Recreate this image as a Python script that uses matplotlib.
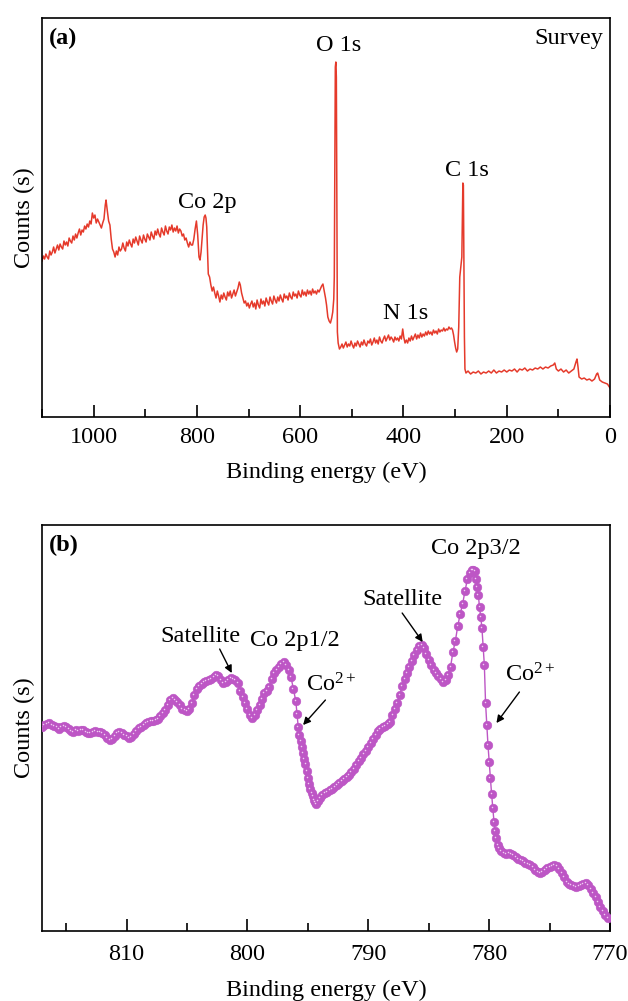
import matplotlib
matplotlib.use("Agg")
import matplotlib.pyplot as plt
import matplotlib.transforms as mtransforms
from matplotlib.ticker import MultipleLocator

plt.rcParams["font.family"] = ["Liberation Serif", "DejaVu Serif"]
plt.rcParams["mathtext.fontset"] = "custom"
plt.rcParams["mathtext.rm"] = "Liberation Serif"
plt.rcParams["mathtext.it"] = "Liberation Serif:italic"

# Survey spectrum (binding energy in eV, counts in arbitrary units)
survey_be = [
    1100, 1097.5, 1095, 1092.5, 1090, 1087.5, 1085, 1082.5, 1080, 1077.5,
    1075, 1072.5, 1070, 1067.5, 1065, 1062.5, 1060, 1057.5, 1055, 1052.5,
    1050, 1047.5, 1045, 1042.5, 1040, 1037.5, 1035, 1032.5, 1030, 1027.5,
    1025, 1022.5, 1020, 1017.5, 1015, 1012.5,
    1010, 1007.5, 1005, 1002.5, 1000, 997.5, 995, 992.5, 990, 987.5,
    985, 982.5, 980, 977.5, 976, 973.5, 971, 968.5, 966, 963.5,
    961, 958.5,
    956, 953.5, 951, 948.5, 946, 943.5, 941, 938.5, 936, 933.5,
    931, 928.5, 926, 923.5, 921, 918.5, 916, 913.5, 911, 908.5,
    906, 903.5, 901, 898.5, 896, 893.5, 891, 888.5, 886, 883.5,
    881, 878.5, 876, 873.5, 871, 868.5, 866, 863.5, 861, 858.5,
    856, 853.5, 851, 848.5, 846, 843.5, 841, 838.5, 836, 833.5,
    831, 828.5,
    826, 823.5, 821, 818.5, 816, 813.5, 811, 808.5, 806, 803.5,
    801, 798.5, 796, 794, 792, 790, 788, 786, 784, 782.5,
    781, 779.5, 778,
    775.5, 773, 770.5, 768, 765.5, 763, 760.5, 758, 755.5, 753,
    750.5, 748, 745.5, 743, 740.5, 738, 735.5, 733, 730.5, 728,
    725.5, 723, 720.5, 718,
    716, 713.5, 711, 708.5, 706, 703.5, 701, 698.5, 696, 693.5,
    691, 688.5, 686, 683.5, 681, 678.5, 676, 673.5, 671, 668.5,
    666, 663.5, 661, 658.5, 656, 653.5, 651, 648.5, 646, 643.5,
    641, 638.5, 636, 633.5, 631, 628.5, 626, 623.5, 621, 618.5,
    616, 613.5, 611, 608.5, 606, 603.5, 601, 598.5, 596, 593.5,
    591, 588.5, 586, 583.5, 581, 578.5, 576, 573.5, 571, 568.5,
    566, 563.5, 561, 558.5,
    556, 553.5, 551, 549, 546.5, 544, 541.5, 539, 537, 535,
    534, 533, 532, 531, 530, 529, 528, 526.5,
    524, 521.5, 519, 516.5, 514, 511.5, 509, 506.5, 504, 501.5,
    499, 496.5, 494, 491.5, 489, 486.5, 484, 481.5, 479, 476.5,
    474, 471.5, 469, 466.5, 464, 461.5, 459, 456.5, 454, 451.5,
    449, 446.5, 444, 441.5, 439, 436.5, 434, 431.5, 429, 426.5,
    424, 421.5, 419, 416.5, 414, 411.5, 409, 406.5, 404, 401.5,
    399.5, 397, 394.5, 392, 389.5, 387, 384.5, 382, 379.5, 377,
    374.5, 372, 369.5, 367, 364.5, 362, 359.5, 357, 354.5, 352,
    349.5, 347, 344.5, 342, 339.5, 337, 334.5, 332, 329.5, 327,
    324.5, 322, 319.5, 317, 314.5, 312, 309.5, 307, 305,
    303, 301, 299, 297, 295, 293, 291, 289, 287, 286,
    285, 284, 283, 282, 281,
    279, 275, 270, 265, 260, 255, 250, 245, 240, 235,
    230, 225, 220, 215, 210, 205, 200, 195, 190, 185,
    180, 175, 170, 165, 160, 155, 150, 145, 140, 135,
    130, 125, 120, 115, 110, 107, 104, 100, 95, 90,
    85, 80, 75, 70, 66, 64, 62, 60, 55, 50,
    45, 40, 35, 30, 26, 24, 20, 15, 10, 5,
    0,
]
survey_counts = [
    156, 161, 158, 163, 160, 158, 166, 162, 165, 170,
    164, 168, 172, 167, 173, 170, 168, 176, 172, 175,
    171, 179, 176, 174, 181, 177, 183, 179, 184, 188,
    182, 187, 185, 191, 188, 193,
    190, 196, 193, 204, 199, 202, 194, 198, 195, 192,
    189, 194, 198, 212, 217, 206, 196, 192, 178, 168,
    165, 160,
    166, 162, 170, 166, 168, 174, 169, 166, 175, 171,
    177, 173, 170, 178, 174, 180, 176, 172, 181, 177,
    174, 182, 178, 175, 183, 180, 177, 185, 181, 178,
    186, 182, 188, 183, 180, 189, 185, 182, 191, 186,
    183, 190, 187, 192, 185, 189, 186, 191, 184, 188,
    186, 181,
    183, 177, 179, 174, 170, 175, 172, 172, 178, 188,
    196, 182, 160, 157, 165, 178, 192, 200, 202, 199,
    190, 165, 143,
    140, 132, 126, 130, 124, 119, 126, 121, 115, 122,
    118, 124, 120, 117, 125, 121, 126, 119, 123, 127,
    121, 125, 129, 135,
    132, 124, 119, 114, 116, 111, 114, 109, 113, 116,
    110, 114, 108, 117, 112, 109, 118, 113, 116, 111,
    119, 115, 112, 120, 116, 113, 121, 117, 114, 120,
    116, 122, 118, 115, 123, 119, 121, 117, 124, 120,
    118, 125, 121, 123, 119, 126, 122, 120, 127, 122,
    125, 121, 127, 123, 126, 122, 128, 124, 126, 123,
    127, 125, 128, 131,
    133, 126, 119, 112, 100, 96, 94, 99, 105, 118,
    140, 250, 350, 355, 340, 200, 85, 74,
    68, 70, 73, 69, 72, 75, 70, 73, 71, 76,
    72, 69, 74, 71, 76, 73, 70, 75, 72, 77,
    73, 71, 76, 74, 78, 72, 75, 79, 74, 77,
    73, 80, 76, 74, 78, 81, 76, 79, 82, 77,
    80, 78, 75, 80, 77, 79, 76, 81, 78, 88,
    80, 74, 77, 74, 79, 76, 81, 77, 80, 83,
    78, 82, 79, 84, 80, 83, 81, 85, 82, 86,
    83, 85, 82, 87, 84, 86, 83, 88, 85, 87,
    86, 89, 86, 88, 87, 90, 88, 89, 87,
    82, 75, 69, 65, 68, 90, 140, 150, 160, 200,
    234, 232, 150, 80, 48,
    44, 46, 43, 45, 44, 46, 43, 45, 44, 46,
    44, 47, 44, 46, 45, 47, 45, 47, 46, 48,
    45, 48, 47, 49, 46, 48, 47, 49, 48, 50,
    48, 50, 49, 51, 52, 54, 48, 46, 48, 45,
    47, 44, 46, 48, 55, 58, 50, 40, 38, 39,
    37, 38, 36, 38, 43, 44, 37, 35, 34, 33,
    29,
]
assert len(survey_be) == len(survey_counts)

# Co 2p high-resolution spectrum
co2p_be = [
    817.0, 816.8, 816.6, 816.4, 816.2, 816.0, 815.8, 815.6, 815.4, 815.2, 815.0, 814.8,
    814.6, 814.4, 814.2, 814.0, 813.8, 813.6, 813.4, 813.2, 813.0, 812.8, 812.6, 812.4,
    812.2, 812.0, 811.8, 811.6, 811.4, 811.2, 811.0, 810.8, 810.6, 810.4, 810.2, 810.0,
    809.8, 809.6, 809.4, 809.2, 809.0, 808.8, 808.6, 808.4, 808.2, 808.0, 807.8, 807.6,
    807.4, 807.2, 807.0, 806.8, 806.6, 806.4, 806.2, 806.0, 805.8, 805.6, 805.4, 805.2,
    805.0, 804.8, 804.6, 804.4, 804.2, 804.0, 803.8, 803.6, 803.4, 803.2, 803.0, 802.8,
    802.6, 802.4, 802.2, 802.0, 801.8, 801.6, 801.4, 801.2, 801.0, 800.8, 800.6, 800.4,
    800.2, 800.0, 799.8, 799.6, 799.4, 799.2, 799.0, 798.8, 798.6, 798.4, 798.2, 798.0,
    797.8, 797.6, 797.4, 797.2, 797.0, 796.8, 796.6, 796.4, 796.2, 796.0, 795.9, 795.8,
    795.7, 795.6, 795.5, 795.4, 795.3, 795.2, 795.1, 795.0, 794.9, 794.8, 794.7, 794.6,
    794.5, 794.4, 794.3, 794.2, 794.0, 793.8, 793.6, 793.4, 793.2, 793.0, 792.8, 792.6,
    792.4, 792.2, 792.0, 791.8, 791.6, 791.4, 791.2, 791.0, 790.8, 790.6, 790.4, 790.2,
    790.0, 789.8, 789.6, 789.4, 789.2, 789.0, 788.8, 788.6, 788.4, 788.2, 788.0, 787.8,
    787.6, 787.4, 787.2, 787.0, 786.8, 786.6, 786.4, 786.2, 786.0, 785.8, 785.6, 785.4,
    785.2, 785.0, 784.8, 784.6, 784.4, 784.2, 784.0, 783.8, 783.6, 783.4, 783.2, 783.0,
    782.8, 782.6, 782.4, 782.2, 782.0, 781.8, 781.6, 781.4, 781.3, 781.2, 781.1, 781.0,
    780.9, 780.8, 780.7, 780.6, 780.5, 780.4, 780.3, 780.2, 780.1, 780.0, 779.9, 779.8,
    779.7, 779.6, 779.5, 779.4, 779.3, 779.2, 779.0, 778.8, 778.6, 778.4, 778.2, 778.0,
    777.8, 777.6, 777.4, 777.2, 777.0, 776.8, 776.6, 776.4, 776.2, 776.0, 775.8, 775.6,
    775.4, 775.2, 775.0, 774.8, 774.6, 774.4, 774.2, 774.0, 773.8, 773.6, 773.4, 773.2,
    773.0, 772.8, 772.6, 772.4, 772.2, 772.0, 771.8, 771.6, 771.4, 771.2, 771.0, 770.8,
    770.6, 770.4, 770.2,
]
co2p_counts = [
    204, 206, 207, 208, 206, 205, 204, 202, 204, 205, 204, 202,
    200, 199, 201, 200, 201, 201, 199, 198, 198, 199, 200, 199,
    199, 198, 196, 193, 191, 192, 195, 198, 199, 198, 196, 195,
    193, 194, 197, 200, 203, 204, 206, 208, 209, 210, 210, 211,
    212, 215, 218, 221, 226, 231, 233, 231, 229, 226, 222, 221,
    220, 222, 228, 236, 242, 245, 247, 249, 250, 251, 252, 254,
    256, 255, 251, 248, 249, 251, 253, 252, 251, 248, 240, 234,
    228, 222, 216, 213, 216, 221, 226, 232, 238, 240, 244, 252,
    258, 261, 264, 267, 269, 266, 261, 254, 242, 230, 217, 204,
    196, 190, 184, 178, 172, 167, 160, 153, 147, 142, 138, 135,
    131, 129, 127, 130, 133, 136, 138, 139, 141, 142, 144, 146,
    148, 150, 152, 154, 156, 159, 162, 166, 170, 173, 177, 180,
    184, 188, 192, 196, 200, 202, 204, 205, 207, 209, 216, 222,
    228, 236, 245, 252, 258, 264, 270, 276, 281, 285, 286, 283,
    277, 271, 266, 261, 258, 255, 252, 249, 251, 256, 264, 279,
    290, 305, 317, 327, 340, 352, 358, 361, 361, 360, 352, 344,
    336, 324, 314, 303, 284, 266, 228, 206, 186, 169, 153, 137,
    123, 109, 100, 93, 86, 83, 80, 78, 77, 78, 77, 76,
    74, 72, 71, 70, 68, 67, 66, 64, 61, 59, 58, 59,
    61, 63, 64, 65, 66, 65, 62, 58, 54, 49, 47, 46,
    45, 44, 45, 46, 47, 48, 46, 42, 38, 34, 29, 24,
    20, 16, 13,
]

fig = plt.figure(figsize=(6.28, 10.01), dpi=100)
ax1 = fig.add_axes([0.0669, 0.5834, 0.9045, 0.3986])
ax2 = fig.add_axes([0.0669, 0.0699, 0.9045, 0.4056])

for ax in (ax1, ax2):
    for sp in ax.spines.values():
        sp.set_linewidth(1.2)
    ax.tick_params(axis="x", which="major", direction="in", length=9, width=1.2,
                   labelsize=17.5, pad=7, top=False)
    ax.tick_params(axis="x", which="minor", direction="in", length=6, width=1.2, top=False)
    ax.set_yticks([])
    ax.set_ylabel("Counts (s)", fontsize=17.5, labelpad=5)
    ax.set_xlabel("Binding energy (eV)", fontsize=17.5, labelpad=10)
ax2.tick_params(axis="x", which="major", pad=9)
ax2.xaxis.labelpad = 11

# (a) survey
ax1.plot(survey_be, survey_counts, color="#e53a2b", lw=1.1)
ax1.set_xlim(1100, 0)
ax1.set_ylim(0, 399)
ax1.xaxis.set_major_locator(MultipleLocator(200))
ax1.xaxis.set_minor_locator(MultipleLocator(100))

ax1.text(0.012, 0.975, "(a)", transform=ax1.transAxes, fontsize=17.5,
         fontweight="bold", va="top", ha="left")
ax1.text(0.988, 0.975, "Survey", transform=ax1.transAxes, fontsize=17.5,
         va="top", ha="right")
ax1.text(526, 372, "O 1s", fontsize=17.5, ha="center", va="center")
ax1.text(278, 247, "C 1s", fontsize=17.5, ha="center", va="center")
ax1.text(779, 215, "Co 2p", fontsize=17.5, ha="center", va="center")
ax1.text(396, 104, "N 1s", fontsize=17.5, ha="center", va="center")

# (b) Co 2p, beads with a small highlight
dot_face = "#bd56c5"
ax2.plot(co2p_be, co2p_counts, color=dot_face, lw=1.0, zorder=2)
ax2.plot(co2p_be, co2p_counts, ls="none", marker="o", ms=6.2, mfc=dot_face,
         mec=dot_face, mew=0.4, zorder=3)
shine = ax2.transData + mtransforms.ScaledTranslation(-0.7 / 72, 0.7 / 72, fig.dpi_scale_trans)
ax2.plot(co2p_be, co2p_counts, ls="none", marker="o", ms=1.1, mfc="#f0cff2",
         mec="none", transform=shine, zorder=4)
ax2.set_xlim(817, 770)
ax2.set_ylim(0, 406)
ax2.xaxis.set_major_locator(MultipleLocator(10))
ax2.xaxis.set_minor_locator(MultipleLocator(5))

ax2.text(0.012, 0.975, "(b)", transform=ax2.transAxes, fontsize=17.5,
         fontweight="bold", va="top", ha="left")
ax2.text(781.1, 383, "Co 2p3/2", fontsize=17.5, ha="center", va="center")
ax2.text(796.1, 291, "Co 2p1/2", fontsize=17.5, ha="center", va="center")

arrow = dict(arrowstyle="-|>", color="black", lw=1.0, mutation_scale=11,
             shrinkA=0, shrinkB=0)
ax2.text(787.2, 332, "Satellite", fontsize=17.5, ha="center", va="center")
ax2.annotate("", xy=(785.5, 289), xytext=(787.2, 318), arrowprops=arrow)
ax2.text(803.9, 295, "Satellite", fontsize=17.5, ha="center", va="center")
ax2.annotate("", xy=(801.3, 258), xytext=(802.3, 282), arrowprops=arrow)
ax2.text(793.1, 246, "Co$^{2+}$", fontsize=17.5, ha="center", va="center")
ax2.annotate("", xy=(795.4, 206), xytext=(793.55, 231), arrowprops=arrow)
ax2.text(776.6, 256, "Co$^{2+}$", fontsize=17.5, ha="center", va="center")
ax2.annotate("", xy=(779.4, 208), xytext=(777.5, 239), arrowprops=arrow)

fig.savefig("out.png", dpi=100)
